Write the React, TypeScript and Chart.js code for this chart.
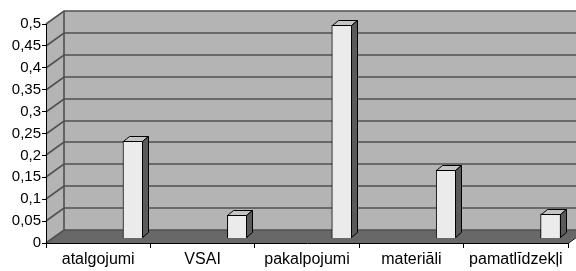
import React, { useEffect, useRef } from "react";
import { Chart, registerables } from "chart.js";

Chart.register(...registerables);

const categories = ["atalgojumi", "VSAI", "pakalpojumi", "materiāli", "pamatlīdzekļi"];
const values = [0.221, 0.052, 0.486, 0.155, 0.055];
const yMin = 0;
const yMax = 0.5;
const yStep = 0.05;

// 3D geometry (pixels)
const WALL_DX = 18;
const WALL_DY = 13;
const BAR_DX = 6;
const BAR_DY = 5;
const BAR_SHIFT_Y = 5; // bars sit a little behind the front edge of the floor
const BAR_SHIFT_CAT = 0.333; // horizontal shift of bars within category, in categories

const COLORS = {
  wall: "#b4b4b4",
  grid: "#505050",
  floor: "#686868",
  barFront: "#ebebeb",
  barTop: "#c4c4c4",
  barSide: "#5a5a5a",
};

const fmt = (v: number) => {
  const n = Number(v.toFixed(2));
  return String(n).replace(".", ",");
};

const wallPlugin = {
  id: "wall3d",
  beforeDraw(chart: any) {
    const { ctx, chartArea } = chart;
    const ys = chart.scales.y;
    const L = chartArea.left;
    const R = chartArea.right;
    const W = chart.width;
    const top = ys.getPixelForValue(yMax);
    const bot = ys.getPixelForValue(yMin);
    ctx.save();
    // back wall
    ctx.fillStyle = COLORS.wall;
    ctx.fillRect(L + WALL_DX, top - WALL_DY, W - (L + WALL_DX), bot - top);
    // left wall
    ctx.beginPath();
    ctx.moveTo(L, top);
    ctx.lineTo(L + WALL_DX, top - WALL_DY);
    ctx.lineTo(L + WALL_DX, bot - WALL_DY);
    ctx.lineTo(L, bot);
    ctx.closePath();
    ctx.fill();
    // floor
    ctx.fillStyle = COLORS.floor;
    ctx.beginPath();
    ctx.moveTo(L, bot);
    ctx.lineTo(L + WALL_DX, bot - WALL_DY);
    ctx.lineTo(R + WALL_DX, bot - WALL_DY);
    ctx.lineTo(R, bot);
    ctx.closePath();
    ctx.fill();
    ctx.strokeStyle = "#000";
    ctx.lineWidth = 1;
    ctx.beginPath();
    ctx.moveTo(R, bot + 0.5);
    ctx.lineTo(R + WALL_DX, bot - WALL_DY + 0.5);
    ctx.stroke();
    // gridlines
    ctx.strokeStyle = COLORS.grid;
    ctx.lineWidth = 1.6;
    const n = Math.round((yMax - yMin) / yStep);
    for (let i = 0; i <= n; i++) {
      const v = yMin + i * yStep;
      const py = Math.round(ys.getPixelForValue(v));
      ctx.beginPath();
      ctx.moveTo(L, py);
      ctx.lineTo(L + WALL_DX, py - WALL_DY);
      ctx.lineTo(W, py - WALL_DY);
      ctx.stroke();
    }
    // back-left vertical edge
    ctx.beginPath();
    ctx.moveTo(L + WALL_DX, top - WALL_DY);
    ctx.lineTo(L + WALL_DX, bot - WALL_DY);
    ctx.stroke();
    ctx.restore();
  },
  afterDatasetsDraw(chart: any) {
    const { ctx } = chart;
    const meta = chart.getDatasetMeta(0);
    ctx.save();
    ctx.strokeStyle = "#000";
    ctx.lineWidth = 1;
    ctx.lineJoin = "round";
    meta.data.forEach((el: any) => {
      const { x, y, base, width } = el.getProps(["x", "y", "base", "width"], true);
      const l = Math.round(x - width / 2) + 0.5;
      const r = Math.round(x + width / 2) - 0.5;
      const t = Math.round(y) + 0.5;
      const b = Math.round(base) - 0.5;
      // top face
      ctx.fillStyle = COLORS.barTop;
      ctx.beginPath();
      ctx.moveTo(l, t);
      ctx.lineTo(l + BAR_DX, t - BAR_DY);
      ctx.lineTo(r + BAR_DX, t - BAR_DY);
      ctx.lineTo(r, t);
      ctx.closePath();
      ctx.fill();
      ctx.stroke();
      // side face
      ctx.fillStyle = COLORS.barSide;
      ctx.beginPath();
      ctx.moveTo(r, t);
      ctx.lineTo(r + BAR_DX, t - BAR_DY);
      ctx.lineTo(r + BAR_DX, b - BAR_DY);
      ctx.lineTo(r, b);
      ctx.closePath();
      ctx.fill();
      ctx.stroke();
    });
    ctx.restore();
  },
};

export default function App() {
  const ref = useRef<HTMLCanvasElement | null>(null);
  useEffect(() => {
    document.body.style.margin = "0";
    const canvas = ref.current;
    if (!canvas) return;
    const plotH = 243 - 24;
    const shiftVal = (BAR_SHIFT_Y / plotH) * (yMax - yMin);
    const chart = new Chart(canvas, {
      type: "bar",
      data: {
        labels: categories,
        datasets: [
          {
            data: values.map((v, i) => ({ x: i, y: v })),
            xAxisID: "xb",
            yAxisID: "yb",
            backgroundColor: COLORS.barFront,
            borderColor: "#000",
            borderWidth: 1,
            barThickness: 20,
            clip: false as any,
          } as any,
        ],
      },
      options: {
        animation: false,
        responsive: false,
        devicePixelRatio: 1,
        layout: { padding: { top: 24, right: 8, left: 0, bottom: 0 } },
        plugins: { legend: { display: false }, tooltip: { enabled: false } },
        scales: {
          x: {
            type: "category",
            position: "bottom",
            offset: true,
            grid: { offset: true, drawOnChartArea: false, tickLength: 5, color: "#000" },
            border: { display: true, color: "#000", width: 1 },
            ticks: {
              color: "#000",
              font: { family: "'Liberation Sans', Arial, sans-serif", size: 16 },
              padding: 2,
              maxRotation: 0,
              autoSkip: false,
            },
            afterFit: (s: any) => {
              s.height = 28;
            },
          },
          y: {
            type: "linear",
            position: "left",
            min: yMin,
            max: yMax,
            grid: { drawOnChartArea: false, tickLength: 4, color: "#000" },
            border: { display: true, color: "#000", width: 1 },
            ticks: {
              stepSize: yStep,
              color: "#000",
              padding: 1,
              font: { family: "'Liberation Sans', Arial, sans-serif", size: 15 },
              callback: (v: any) => fmt(Number(v)),
            },
            afterFit: (s: any) => {
              s.width = 46;
            },
          },
          xb: {
            type: "linear",
            axis: "x",
            display: false,
            offset: false,
            grace: 0,
            min: -0.5 - BAR_SHIFT_CAT,
            max: categories.length - 0.5 - BAR_SHIFT_CAT,
          } as any,
          yb: {
            type: "linear",
            axis: "y",
            display: false,
            min: yMin - shiftVal,
            max: yMax - shiftVal,
          } as any,
        },
      },
      plugins: [wallPlugin],
    });
    return () => chart.destroy();
  }, []);
  return <canvas ref={ref} width={576} height={271} style={{ display: "block" }} />;
}
